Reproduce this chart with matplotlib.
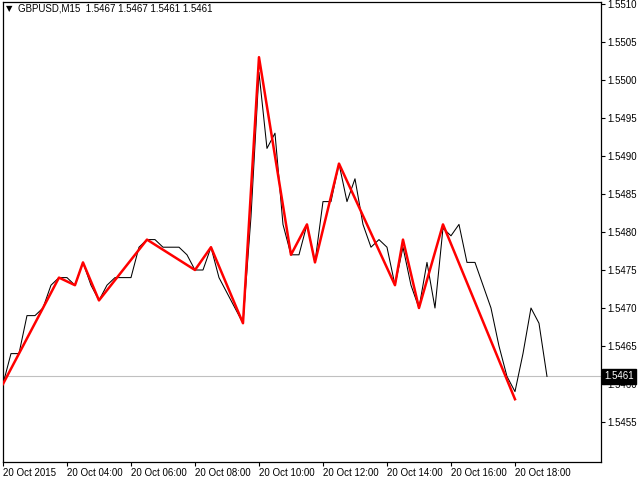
import matplotlib
matplotlib.use("Agg")
import matplotlib.pyplot as plt
import matplotlib.transforms as mtransforms


SYMBOL = "GBPUSD,M15"
LAST_BAR_OHLC = ["1.5467", "1.5467", "1.5461", "1.5461"]
LAST_PRICE = 1.5461

# 15-minute closes, one per bar, starting 20 Oct 2015 02:00
CLOSES = [
    1.5460, 1.5464, 1.5464, 1.5469, 1.5469, 1.5470, 1.5473, 1.5474,
    1.5474, 1.5473, 1.5476, 1.5473, 1.5471, 1.5473, 1.5474, 1.5474,
    1.5474, 1.5478, 1.5479, 1.5479, 1.5478, 1.5478, 1.5478, 1.5477,
    1.5475, 1.5475, 1.5478, 1.5474, 1.5472, 1.5470, 1.5468, 1.5482,
    1.5501, 1.5491, 1.5493, 1.5481, 1.5477, 1.5477, 1.5481, 1.5476,
    1.5484, 1.5484, 1.5489, 1.5484, 1.5487, 1.5481, 1.5478, 1.5479,
    1.5478, 1.5473, 1.5478, 1.5473, 1.5470, 1.5476, 1.5470, 1.54805,
    1.54795, 1.5481, 1.5476, 1.5476, 1.5473, 1.5470, 1.5465, 1.5461,
    1.5459, 1.5464, 1.5470, 1.5468, 1.5461,
]

# zigzag pivots (bar index, high/low price)
ZIGZAG_BARS = [0, 7, 9, 10, 12, 18, 24, 26, 30, 32, 36, 38, 39, 42, 49, 50, 52, 55, 64]
ZIGZAG_PRICES = [
    1.5460, 1.5474, 1.5473, 1.5476, 1.5471, 1.5479, 1.5475, 1.5478, 1.5468,
    1.5503, 1.5477, 1.5481, 1.5476, 1.5489, 1.5473, 1.5479, 1.5470, 1.5481,
    1.5458,
]

TIME_TICK_BARS = [0, 8, 16, 24, 32, 40, 48, 56, 64]
TIME_LABELS = [
    "20 Oct 2015", "20 Oct 04:00", "20 Oct 06:00", "20 Oct 08:00",
    "20 Oct 10:00", "20 Oct 12:00", "20 Oct 14:00", "20 Oct 16:00",
    "20 Oct 18:00",
]
PRICE_TICKS = [
    1.5455, 1.5460, 1.5465, 1.5470, 1.5475, 1.5480,
    1.5485, 1.5490, 1.5495, 1.5500, 1.5505, 1.5510,
]

FONT = "Liberation Sans"


def main():
    fig = plt.figure(figsize=(6.4, 4.8), dpi=100)
    ax = fig.add_axes([2.5 / 640, 18 / 480, 598 / 640, 460 / 480])

    bars = list(range(len(CLOSES)))
    ax.axhline(LAST_PRICE, color="#c0c0c0", linewidth=0.8, zorder=1)
    ax.plot(bars, CLOSES, color="black", linewidth=0.75, zorder=2)
    ax.plot(ZIGZAG_BARS, ZIGZAG_PRICES, color="#ff0000", linewidth=1.8, zorder=3)

    ax.set_xlim(-0.06, 74.69)
    ax.set_ylim(1.544974, 1.551026)

    ax.set_xticks(TIME_TICK_BARS)
    ax.set_xticklabels(TIME_LABELS, fontname=FONT, fontsize=7, ha="left")
    ax.yaxis.tick_right()
    ax.set_yticks(PRICE_TICKS)
    ax.set_yticklabels([f"{p:.4f}" for p in PRICE_TICKS], fontname=FONT, fontsize=7)
    ax.tick_params(axis="x", direction="out", length=3, width=0.8, pad=1)
    ax.tick_params(axis="y", direction="out", length=3, width=0.8, pad=2)

    for spine in ax.spines.values():
        spine.set_linewidth(0.9)
        spine.set_color("black")

    # header: symbol and last bar OHLC
    ax.text(0.006, 0.985, "\u25bc", transform=ax.transAxes, fontsize=6,
            family="DejaVu Sans", va="center", ha="left")
    ax.text(0.026, 0.985, SYMBOL + "  " + " ".join(LAST_BAR_OHLC),
            transform=ax.transAxes, fontsize=7, fontname=FONT,
            va="center", ha="left")

    # current price tag on the right axis
    trans = mtransforms.blended_transform_factory(ax.transAxes, ax.transData)
    ax.text(1.006, LAST_PRICE, f"{LAST_PRICE:.4f}", transform=trans,
            color="white", fontsize=7, fontname=FONT, va="center", ha="left",
            bbox=dict(boxstyle="square,pad=0.25", facecolor="black",
                      edgecolor="black"), zorder=5, clip_on=False)

    fig.savefig("out.png", dpi=100)
    plt.close(fig)


if __name__ == "__main__":
    main()
